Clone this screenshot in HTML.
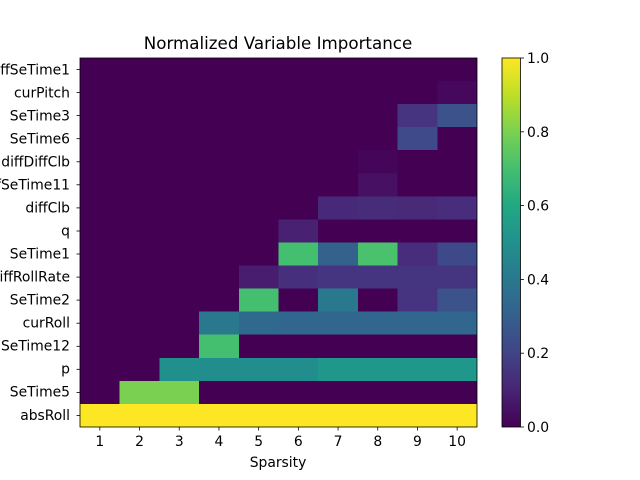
<!DOCTYPE html>
<html><head><meta charset="utf-8"><style>body{margin:0;background:#fff}svg{display:block}text{font-family:"DejaVu Sans","Liberation Sans",sans-serif;fill:#000}</style></head><body>
<svg width="640" height="480" viewBox="0 0 640 480" xmlns="http://www.w3.org/2000/svg">
<defs><linearGradient id="v" x1="0" y1="1" x2="0" y2="0">
<stop offset="0" stop-color="#440154"/><stop offset="0.1" stop-color="#482475"/><stop offset="0.2" stop-color="#414487"/><stop offset="0.3" stop-color="#355f8d"/><stop offset="0.4" stop-color="#2a788e"/><stop offset="0.5" stop-color="#21918c"/><stop offset="0.6" stop-color="#22a884"/><stop offset="0.7" stop-color="#44bf70"/><stop offset="0.8" stop-color="#7ad151"/><stop offset="0.9" stop-color="#bddf26"/><stop offset="1" stop-color="#fde725"/></linearGradient></defs>
<text x="278" y="49" font-size="16.7" text-anchor="middle">Normalized Variable Importance</text>
<g shape-rendering="crispEdges">
<rect x="80" y="58" width="397" height="369" fill="#440154"/>
<rect x="437.3" y="81.06" width="39.7" height="23.06" fill="#46085c"/>
<rect x="397.6" y="104.12" width="39.7" height="23.06" fill="#463480"/>
<rect x="437.3" y="104.12" width="39.7" height="23.06" fill="#3b528b"/>
<rect x="397.6" y="127.18" width="39.7" height="23.06" fill="#3e4a89"/>
<rect x="357.9" y="150.24" width="39.7" height="23.06" fill="#450559"/>
<rect x="357.9" y="173.3" width="39.7" height="23.06" fill="#471063"/>
<rect x="318.2" y="196.36" width="39.7" height="23.06" fill="#482979"/>
<rect x="357.9" y="196.36" width="39.7" height="23.06" fill="#472c7a"/>
<rect x="397.6" y="196.36" width="39.7" height="23.06" fill="#482a79"/>
<rect x="437.3" y="196.36" width="39.7" height="23.06" fill="#472d7b"/>
<rect x="278.5" y="219.42" width="39.7" height="23.06" fill="#482173"/>
<rect x="278.5" y="242.48" width="39.7" height="23.06" fill="#44bf70"/>
<rect x="318.2" y="242.48" width="39.7" height="23.06" fill="#33638d"/>
<rect x="357.9" y="242.48" width="39.7" height="23.06" fill="#4ac16d"/>
<rect x="397.6" y="242.48" width="39.7" height="23.06" fill="#472d7b"/>
<rect x="437.3" y="242.48" width="39.7" height="23.06" fill="#3e4989"/>
<rect x="238.8" y="265.54" width="39.7" height="23.06" fill="#481c6e"/>
<rect x="278.5" y="265.54" width="39.7" height="23.06" fill="#46307e"/>
<rect x="318.2" y="265.54" width="158.8" height="23.06" fill="#453581"/>
<rect x="238.8" y="288.6" width="39.7" height="23.06" fill="#44bf70"/>
<rect x="318.2" y="288.6" width="39.7" height="23.06" fill="#2a788e"/>
<rect x="397.6" y="288.6" width="39.7" height="23.06" fill="#463480"/>
<rect x="437.3" y="288.6" width="39.7" height="23.06" fill="#3b528b"/>
<rect x="199.1" y="311.66" width="39.7" height="23.06" fill="#2a788e"/>
<rect x="238.8" y="311.66" width="39.7" height="23.06" fill="#30698e"/>
<rect x="278.5" y="311.66" width="198.5" height="23.06" fill="#31668e"/>
<rect x="199.1" y="334.72" width="39.7" height="23.06" fill="#44bf70"/>
<rect x="159.4" y="357.78" width="39.7" height="23.06" fill="#21908d"/>
<rect x="199.1" y="357.78" width="119.1" height="23.06" fill="#228d8d"/>
<rect x="318.2" y="357.78" width="158.8" height="23.06" fill="#1f978b"/>
<rect x="119.7" y="380.84" width="79.4" height="23.06" fill="#7ad151"/>
<rect x="80" y="403.9" width="397" height="23.1" fill="#fde725"/>
</g>
<rect x="80" y="58" width="397" height="369" fill="none" stroke="#000" stroke-width="0.8"/>
<g stroke="#000" stroke-width="0.8">
<line x1="99.85" y1="427" x2="99.85" y2="430.5"/><line x1="139.55" y1="427" x2="139.55" y2="430.5"/><line x1="179.25" y1="427" x2="179.25" y2="430.5"/><line x1="218.95" y1="427" x2="218.95" y2="430.5"/><line x1="258.65" y1="427" x2="258.65" y2="430.5"/><line x1="298.35" y1="427" x2="298.35" y2="430.5"/><line x1="338.05" y1="427" x2="338.05" y2="430.5"/><line x1="377.75" y1="427" x2="377.75" y2="430.5"/><line x1="417.45" y1="427" x2="417.45" y2="430.5"/><line x1="457.15" y1="427" x2="457.15" y2="430.5"/>
</g>
<g font-size="13.9" text-anchor="middle">
<text x="99.85" y="446">1</text><text x="139.55" y="446">2</text><text x="179.25" y="446">3</text><text x="218.95" y="446">4</text><text x="258.65" y="446">5</text><text x="298.35" y="446">6</text><text x="338.05" y="446">7</text><text x="377.75" y="446">8</text><text x="417.45" y="446">9</text><text x="457.15" y="446">10</text>
<text x="278" y="467">Sparsity</text>
</g>
<g stroke="#000" stroke-width="0.8">
<line x1="76.5" y1="69.5" x2="80" y2="69.5"/><line x1="76.5" y1="92.6" x2="80" y2="92.6"/><line x1="76.5" y1="115.6" x2="80" y2="115.6"/><line x1="76.5" y1="138.7" x2="80" y2="138.7"/><line x1="76.5" y1="161.8" x2="80" y2="161.8"/><line x1="76.5" y1="184.8" x2="80" y2="184.8"/><line x1="76.5" y1="207.9" x2="80" y2="207.9"/><line x1="76.5" y1="231" x2="80" y2="231"/><line x1="76.5" y1="254" x2="80" y2="254"/><line x1="76.5" y1="277.1" x2="80" y2="277.1"/><line x1="76.5" y1="300.1" x2="80" y2="300.1"/><line x1="76.5" y1="323.2" x2="80" y2="323.2"/><line x1="76.5" y1="346.3" x2="80" y2="346.3"/><line x1="76.5" y1="369.3" x2="80" y2="369.3"/><line x1="76.5" y1="392.4" x2="80" y2="392.4"/><line x1="76.5" y1="415.4" x2="80" y2="415.4"/>
</g>
<g font-size="13.9" text-anchor="end">
<text x="70" y="74.5">diffSeTime1</text><text x="70" y="97.5">curPitch</text><text x="70" y="120.5">SeTime3</text><text x="70" y="143.5">SeTime6</text><text x="70" y="166.5">diffDiffClb</text><text x="70" y="189.5">diffSeTime11</text><text x="70" y="212.5">diffClb</text><text x="70" y="235.5">q</text><text x="70" y="258.5">SeTime1</text><text x="70" y="281.5">diffRollRate</text><text x="70" y="304.5">SeTime2</text><text x="70" y="327.5">curRoll</text><text x="70" y="350.5">SeTime12</text><text x="70" y="373.5">p</text><text x="70" y="396.5">SeTime5</text><text x="70" y="420">absRoll</text>
</g>
<rect x="502" y="58" width="18.5" height="369" fill="url(#v)" stroke="#000" stroke-width="0.8"/>
<g stroke="#000" stroke-width="0.8">
<line x1="520.5" y1="427" x2="524" y2="427"/><line x1="520.5" y1="353.2" x2="524" y2="353.2"/><line x1="520.5" y1="279.4" x2="524" y2="279.4"/><line x1="520.5" y1="205.6" x2="524" y2="205.6"/><line x1="520.5" y1="131.8" x2="524" y2="131.8"/><line x1="520.5" y1="58" x2="524" y2="58"/>
</g>
<g font-size="13.9">
<text x="527" y="432">0.0</text><text x="527" y="358.2">0.2</text><text x="527" y="284.4">0.4</text><text x="527" y="210.6">0.6</text><text x="527" y="136.8">0.8</text><text x="527" y="63">1.0</text>
</g>
</svg>
</body></html>
